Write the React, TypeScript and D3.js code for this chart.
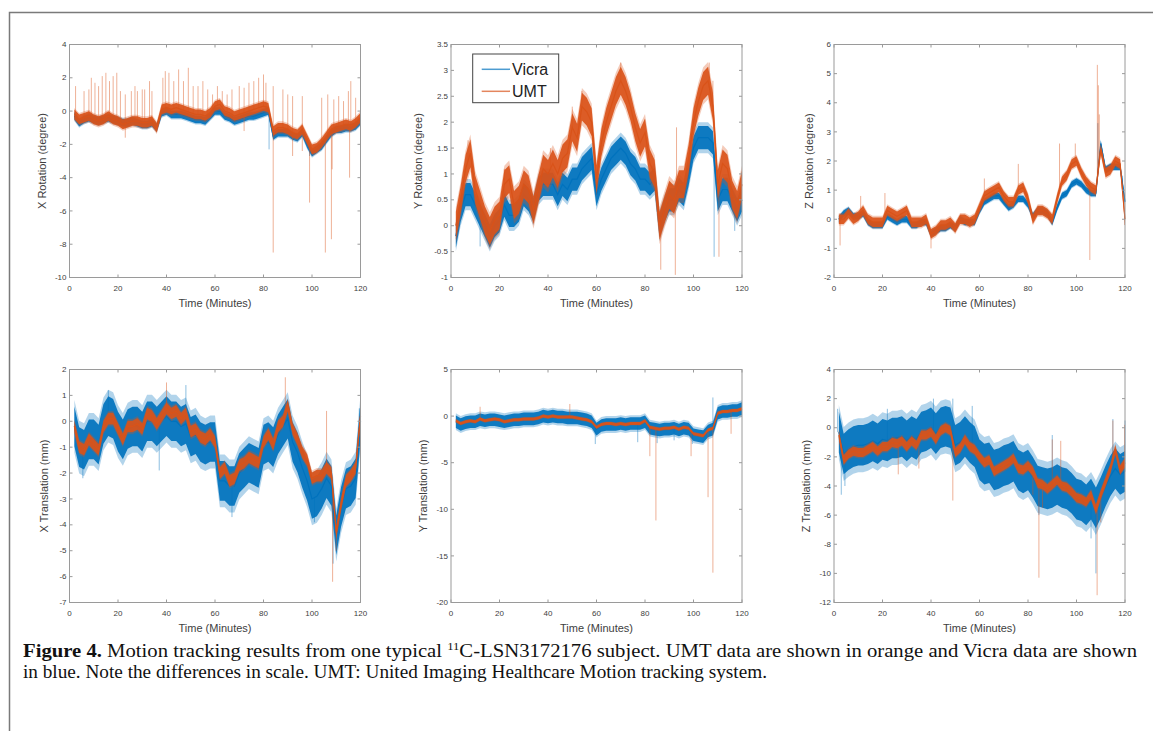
import React from 'react';
import * as d3 from 'd3';

// samples every 2 minutes, 2..120
const minutes = d3.range(2, 121, 2);
const timeTicks = [0, 20, 40, 60, 80, 100, 120];

// X Rotation (degree)
const xRotVicra = [
  -0.3, -0.7, -0.5, -0.4, -0.5, -0.6, -0.5, -0.4, -0.5, -0.6,
  -0.7, -0.7, -0.6, -0.7, -0.8, -0.8, -0.7, -1.0, -0.1, 0.0,
  -0.2, -0.2, -0.2, -0.3, -0.4, -0.5, -0.5, -0.6, -0.3, 0.0,
  0.0, -0.3, -0.4, -0.6, -0.5, -0.4, -0.3, -0.3, -0.2, -0.1,
  0.0, -1.5, -1.3, -1.3, -1.3, -1.5, -1.6, -1.3, -2.0, -2.5,
  -2.3, -2.1, -1.7, -1.3, -1.1, -1.1, -1.0, -1.0, -0.9, -0.6,
];
const xRotUmt = [
  -0.2, -0.5, -0.4, -0.3, -0.5, -0.6, -0.5, -0.3, -0.5, -0.6,
  -0.8, -0.7, -0.6, -0.6, -0.7, -0.7, -0.6, -1.0, 0.1, 0.2,
  0.1, 0.2, 0.1, 0.0, -0.1, -0.2, -0.2, -0.3, -0.1, 0.3,
  0.4, 0.0, -0.1, -0.3, -0.2, -0.1, 0.0, 0.1, 0.2, 0.3,
  0.2, -1.2, -1.0, -1.0, -1.1, -1.3, -1.4, -1.1, -1.7, -2.3,
  -2.2, -1.9, -1.5, -1.1, -1.0, -0.9, -0.8, -0.9, -0.7, -0.4,
];
const xRotUmtSpikes = [
  [2.5, 1.5], [6, 1.2], [8, 1.3], [9, 2.0], [10.5, 1.7], [12, 1.5], [13.5, 2.1], [15, 2.3],
  [16.5, 1.8], [18, 2.1], [19.5, 2.3], [21, 1.2], [23, 1.0], [25.5, 1.2], [27, 1.5], [28, 1.2],
  [30, 1.3], [31, 1.3], [33, 1.8], [34, 1.2], [38.5, 2.0], [39.5, 2.4], [41, 2.3], [43, 1.8],
  [45, 2.5], [47, 1.8], [49, 2.6], [51, 1.5], [53, 1.5], [55, 1.8], [57, 1.3], [59, 1.0],
  [61, 1.5], [63, 1.2], [65, 1.0], [67, 1.3], [70, 1.5], [72, 1.4], [74, 1.7], [76, 1.8],
  [78, 2.0], [80, 2.2], [81, 1.7], [84, 1.5], [88, 1.3], [90, 1.0], [92, 0.9], [96, 0.9],
  [104, 0.8], [106.5, 1.0], [109, 0.7], [111, 0.9], [113, 0.6], [115, 1.2], [116, 1.8], [118, 0.8],
  [84, -8.5], [99, -5.5], [105.5, -8.5], [108, -7.7], [115.5, -4.0], [92, -2.7], [96, -2.4],
  [72, -1.2], [23, -1.6], [108.3, -3.5],
];
const xRotVicraSpikes = [[82.3, -2.3], [99, -2.7]];

// Y Rotation (degree)
const yRotVicra = [
  -0.2, 0.3, 0.6, 0.6, 0.4, 0.2, 0.0, -0.2, 0.0, 0.1,
  0.4, 0.2, 0.2, 0.3, 0.6, 0.5, 0.3, 0.7, 0.8, 0.8,
  0.8, 0.6, 0.8, 0.7, 0.9, 0.9, 1.1, 1.2, 1.3, 0.6,
  0.9, 1.1, 1.3, 1.4, 1.5, 1.4, 1.2, 1.1, 0.9, 0.9,
  0.8, 0.9, 0.0, 0.3, 0.5, 0.5, 0.7, 0.6, 1.0, 1.5,
  1.7, 1.7, 1.7, 1.6, 0.5, 0.7, 0.7, 0.5, 0.3, 0.5,
];
const yRotUmt = [
  0.0, 0.5, 1.1, 1.4, 0.7, 0.4, 0.1, -0.1, 0.1, 0.2,
  0.8, 0.9, 0.4, 0.5, 0.8, 0.7, 0.3, 0.7, 1.1, 1.0,
  1.2, 1.0, 1.3, 1.4, 1.9, 1.7, 2.3, 2.2, 2.0, 0.9,
  1.6, 2.0, 2.3, 2.6, 2.8, 2.6, 2.3, 1.9, 1.6, 1.8,
  1.2, 1.0, 0.0, 0.3, 0.6, 0.5, 0.8, 0.8, 1.3, 2.0,
  2.4, 2.7, 2.8, 2.3, 0.8, 1.2, 1.1, 0.6, 0.4, 0.8,
];
const yRotUmtSpikes = [
  [86.5, -0.85], [92.5, -0.95], [93, 1.9], [106.5, 3.15], [110.5, -0.6], [70, 3.15],
  [54, 2.6], [7, 1.65], [108, 2.8], [50, 2.3], [22, 1.1], [41, 1.5],
];
const yRotVicraSpikes = [[58.5, 1.6], [108.5, -0.6], [117, -0.1], [12, -0.4]];

// Z Rotation (degree)
const zRotVicra = [
  0.0, 0.2, 0.3, 0.1, 0.1, 0.2, -0.1, -0.2, -0.2, -0.2,
  0.1, 0.0, -0.1, 0.0, 0.0, -0.2, -0.2, -0.1, -0.1, -0.5,
  -0.4, -0.3, -0.3, -0.2, -0.3, 0.0, -0.1, -0.1, -0.1, 0.3,
  0.6, 0.7, 0.8, 0.8, 0.6, 0.4, 0.5, 0.7, 0.7, 0.5,
  0.1, 0.3, 0.3, 0.2, -0.1, 0.4, 0.8, 0.9, 1.2, 1.3,
  1.2, 1.0, 0.9, 0.9, 2.6, 1.7, 1.8, 1.8, 1.8, 0.6,
];
const zRotUmt = [
  0.0, 0.0, 0.2, 0.0, 0.1, 0.3, 0.0, -0.1, -0.1, -0.1,
  0.3, 0.2, 0.1, 0.2, 0.3, -0.1, -0.1, -0.1, 0.0, -0.5,
  -0.4, -0.2, -0.2, -0.1, -0.3, 0.0, 0.0, -0.1, 0.0, 0.4,
  0.8, 0.9, 1.0, 1.1, 0.8, 0.6, 0.6, 1.0, 1.1, 0.7,
  0.0, 0.3, 0.3, 0.2, 0.0, 0.7, 1.3, 1.5, 1.9, 2.0,
  1.6, 1.3, 1.1, 1.0, 2.4, 1.6, 1.7, 2.0, 1.9, 0.0,
];
const zRotUmtSpikes = [
  [2.5, -0.9], [11, 0.8], [21, 0.9], [40, -1.0], [76, 1.9], [93, 2.6], [105.5, -1.4],
  [108.6, 5.3], [109, 4.6], [109.4, 3.6], [119.8, -0.2], [62, 1.4], [99.5, 2.6],
];
const zRotVicraSpikes = [[119, 1.5], [108.8, 3.3]];

// X Translation (mm)
const xTransVicra = [
  -0.2, -1.0, -1.1, -0.7, -0.7, -0.9, -0.1, 0.2, 0.1, -0.4,
  -0.7, -0.3, -0.2, -0.2, -0.4, 0.0, 0.0, -0.2, 0.0, 0.2,
  0.0, 0.0, -0.2, -0.1, -0.6, -0.5, -0.8, -0.9, -0.8, -0.8,
  -2.3, -2.3, -2.5, -2.5, -2.0, -1.8, -1.6, -1.7, -1.8, -0.9,
  -0.8, -1.0, -0.5, -0.2, 0.1, -0.8, -1.2, -1.8, -2.3, -3.0,
  -2.9, -2.6, -2.2, -2.5, -4.4, -3.3, -2.6, -2.5, -2.2, 0.0,
];
const xTransUmt = [
  -0.2, -1.0, -1.1, -0.7, -0.9, -1.1, -0.2, 0.1, 0.1, -0.3,
  -0.7, -0.2, -0.2, -0.1, -0.3, 0.3, 0.2, -0.1, 0.2, 0.5,
  0.3, 0.4, 0.1, 0.3, -0.4, -0.3, -0.6, -0.7, -0.5, -0.8,
  -2.0, -1.8, -2.3, -2.2, -1.7, -1.6, -1.4, -1.5, -1.6, -0.8,
  -0.5, -0.9, -0.2, 0.0, 0.6, -0.3, -0.7, -1.2, -1.5, -2.2,
  -2.1, -2.1, -1.8, -2.0, -4.3, -3.2, -2.3, -2.1, -1.8, 0.2,
];
const xTransUmtSpikes = [[108.5, -6.2], [89, 1.7], [106, 0.4], [40, 1.5], [110, -5.0]];
const xTransVicraSpikes = [
  [67, -3.7], [37, -1.9], [5.5, -2.2], [101, -3.9], [108.7, -5.5], [16, 1.2], [48, 1.4], [119.5, 0.5],
];

// Y Translation (mm)
const yTransVicra = [
  -0.6, -0.9, -0.7, -0.6, -0.6, -0.4, -0.5, -0.4, -0.4, -0.5,
  -0.6, -0.5, -0.4, -0.4, -0.3, -0.3, -0.3, -0.2, 0.0, -0.1,
  0.0, -0.1, -0.1, -0.2, -0.2, -0.2, -0.3, -0.4, -0.6, -1.4,
  -1.0, -0.9, -0.9, -0.9, -0.8, -0.9, -0.8, -0.8, -0.8, -0.6,
  -1.3, -1.4, -1.5, -1.4, -1.4, -1.3, -1.5, -1.3, -1.4, -2.0,
  -2.1, -2.2, -1.6, -1.4, 0.3, 0.5, 0.5, 0.6, 0.6, 0.8,
];
const yTransUmt = [
  -0.5, -0.8, -0.6, -0.5, -0.6, -0.3, -0.5, -0.4, -0.3, -0.4,
  -0.6, -0.5, -0.4, -0.4, -0.3, -0.3, -0.3, -0.2, 0.0, -0.1,
  0.0, -0.1, -0.1, -0.1, -0.1, -0.2, -0.3, -0.4, -0.6, -1.2,
  -0.9, -0.8, -0.8, -0.9, -0.8, -0.9, -0.8, -0.8, -0.8, -0.5,
  -1.2, -1.3, -1.4, -1.3, -1.3, -1.2, -1.4, -1.2, -1.3, -1.9,
  -2.0, -2.1, -1.5, -1.3, 0.3, 0.5, 0.5, 0.6, 0.6, 0.8,
];
const yTransUmtSpikes = [
  [82, -4.3], [84.5, -11.2], [99, -4.3], [106, -8.7], [108, -16.8], [115.5, -1.9], [49, 1.3], [12, 1.0],
];
const yTransVicraSpikes = [[59.5, -3.0], [77, -2.8], [85, -2.9], [108, 2.0], [92, -2.6], [99.5, -3.0]];

// Z Translation (mm)
const zTransVicra = [
  -0.3, -1.8, -1.5, -1.3, -1.2, -1.2, -1.1, -0.9, -1.1, -0.8,
  -0.9, -0.7, -0.7, -0.6, -0.9, -0.6, -0.8, -0.3, -0.2, 0.0,
  -0.4, 0.0, 0.1, 0.0, -1.2, -1.0, -0.6, -1.0, -1.3, -2.2,
  -2.5, -2.4, -2.9, -2.8, -2.6, -2.5, -2.3, -2.9, -3.1, -2.9,
  -3.4, -4.0, -4.1, -4.2, -4.1, -3.9, -4.1, -4.2, -4.5, -4.9,
  -5.0, -5.3, -4.9, -5.5, -4.8, -4.0, -3.3, -2.8, -3.2, -3.0,
];
const zTransUmt = [
  -0.5, -2.2, -1.8, -1.6, -1.7, -1.7, -1.5, -1.3, -1.6, -1.3,
  -1.3, -1.0, -1.1, -0.9, -1.3, -0.9, -1.2, -0.5, -0.5, -0.3,
  -0.8, -0.2, 0.0, -0.2, -1.7, -1.4, -0.8, -1.3, -1.5, -2.0,
  -2.4, -2.2, -3.0, -2.8, -2.6, -2.4, -2.1, -2.8, -2.9, -2.6,
  -3.0, -3.8, -3.9, -4.2, -3.9, -3.6, -4.0, -4.1, -4.4, -4.8,
  -4.9, -5.1, -4.6, -5.6, -4.6, -3.7, -2.8, -1.5, -2.9, -2.4,
];
const zTransUmtSpikes = [
  [49, -5.0], [84.5, -10.3], [108.5, -11.5], [115, 0.5], [90, -0.8], [93.5, -0.9],
  [82, -4.6], [26.5, -3.2], [35, -2.8], [119.8, 0.2], [86, -5.5], [110, -6.5],
];
const zTransVicraSpikes = [
  [1.5, 1.3], [3, -4.6], [4.5, -4.0], [49, 2.0], [41, 2.0], [22, 1.3], [57, 1.5],
  [90, -0.5], [108, -10.0], [106, -7.6], [84.5, -6.0], [115, 0.6], [120, 0.5],
];

// noise half-widths of each trace [Vicra, UMT]
const spreads = {
  xRot: [0.25, 0.32], yRot: [0.25, 0.3], zRot: [0.12, 0.18],
  xTrans: [0.85, 0.25], yTrans: [0.75, 0.18], zTrans: [1.55, 0.35],
};

const BLUE = '#0072BD';
const ORANGE = '#D95319';
const AXIS = '#9a9a9a';
const TEXT = '#404040';

const panels = [
  { label: 'X Rotation (degree)', domain: [-10, 4], ticks: d3.range(-10, 5, 2), vicra: xRotVicra, umt: xRotUmt, spread: spreads.xRot, vSpikes: xRotVicraSpikes, uSpikes: xRotUmtSpikes },
  { label: 'Y Rotation (degree)', domain: [-1, 3.5], ticks: d3.range(-1, 3.6, 0.5), vicra: yRotVicra, umt: yRotUmt, spread: spreads.yRot, vSpikes: yRotVicraSpikes, uSpikes: yRotUmtSpikes, legend: true },
  { label: 'Z Rotation (degree)', domain: [-2, 6], ticks: d3.range(-2, 7, 1), vicra: zRotVicra, umt: zRotUmt, spread: spreads.zRot, vSpikes: zRotVicraSpikes, uSpikes: zRotUmtSpikes },
  { label: 'X Translation (mm)', domain: [-7, 2], ticks: d3.range(-7, 3, 1), vicra: xTransVicra, umt: xTransUmt, spread: spreads.xTrans, vSpikes: xTransVicraSpikes, uSpikes: xTransUmtSpikes },
  { label: 'Y Translation (mm)', domain: [-20, 5], ticks: d3.range(-20, 6, 5), vicra: yTransVicra, umt: yTransUmt, spread: spreads.yTrans, vSpikes: yTransVicraSpikes, uSpikes: yTransUmtSpikes },
  { label: 'Z Translation (mm)', domain: [-12, 4], ticks: d3.range(-12, 5, 2), vicra: zTransVicra, umt: zTransUmt, spread: spreads.zTrans, vSpikes: zTransVicraSpikes, uSpikes: zTransUmtSpikes },
];

const colLefts = [69.5, 451, 834];
const rowTops = [44.5, 369.5];
const W = 291;
const H = 233;

function valueAt(series: number[], t: number) {
  const i = Math.max(0, Math.min(series.length - 1.0001, (t - minutes[0]) / 2));
  const i0 = Math.floor(i);
  const f = i - i0;
  return series[i0] * (1 - f) + series[i0 + 1] * f;
}

const fmt = (v: number) => String(Math.round(v * 10) / 10);

function Trace({ x, y, data, spread, spikes, color }: any) {
  const band = (k: number) =>
    d3.area<number>()
      .x((_, i) => x(minutes[i]))
      .y0((d) => y(d - spread * k))
      .y1((d) => y(d + spread * k))(data) as string;
  const mid = d3.line<number>().x((_, i) => x(minutes[i])).y((d) => y(d))(data) as string;
  return (
    <g>
      {spikes.map(([t, v]: number[], i: number) => (
        <line key={i} x1={x(t)} x2={x(t)} y1={y(valueAt(data, t))} y2={y(v)}
          stroke={color} strokeWidth={0.9} strokeOpacity={0.5} />
      ))}
      <path d={band(1.2)} fill={color} fillOpacity={0.3} />
      <path d={band(0.9)} fill={color} fillOpacity={0.92} />
      <path d={mid} fill="none" stroke={color} strokeWidth={1.2} />
    </g>
  );
}

function Panel({ p, left, top }: any) {
  const x = d3.scaleLinear().domain([0, 120]).range([left, left + W]);
  const y = d3.scaleLinear().domain(p.domain).range([top + H, top]);
  const maxLen = d3.max(p.ticks as number[], (t) => fmt(t).length) as number;
  const labelX = left - Math.max(25, 14 + 4.6 * maxLen);
  return (
    <g fontFamily="Liberation Sans, Arial, sans-serif">
      <Trace x={x} y={y} data={p.vicra} spread={p.spread[0]} spikes={p.vSpikes} color={BLUE} />
      <Trace x={x} y={y} data={p.umt} spread={p.spread[1]} spikes={p.uSpikes} color={ORANGE} />
      <rect x={left} y={top} width={W} height={H} fill="none" stroke={AXIS} strokeWidth={1} />
      {timeTicks.map((t) => (
        <g key={t}>
          <line x1={x(t)} x2={x(t)} y1={top + H} y2={top + H - 3} stroke={AXIS} />
          <line x1={x(t)} x2={x(t)} y1={top} y2={top + 3} stroke={AXIS} />
          <text x={x(t)} y={top + H + 13.5} textAnchor="middle" fontSize={8} fill={TEXT}>{t}</text>
        </g>
      ))}
      {p.ticks.map((t: number) => (
        <g key={t}>
          <line x1={left} x2={left + 3} y1={y(t)} y2={y(t)} stroke={AXIS} />
          <line x1={left + W} x2={left + W - 3} y1={y(t)} y2={y(t)} stroke={AXIS} />
          <text x={left - 3} y={y(t)} dy="0.33em" textAnchor="end" fontSize={8} fill={TEXT}>{fmt(t)}</text>
        </g>
      ))}
      <text x={left + W / 2} y={top + H + 29.5} textAnchor="middle" fontSize={11} fill={TEXT}>Time (Minutes)</text>
      <text transform={`translate(${labelX},${top + H / 2}) rotate(-90)`} dy="0.35em" textAnchor="middle" fontSize={11} fill={TEXT}>{p.label}</text>
      {p.legend && (
        <g>
          <rect x={left + 21.7} y={top + 9.5} width={86} height={48.7} fill="#fff" stroke="#444" strokeWidth={1} />
          <line x1={left + 30.7} x2={left + 59} y1={top + 24.8} y2={top + 24.8} stroke={BLUE} strokeWidth={1.5} strokeOpacity={0.7} />
          <line x1={left + 30.7} x2={left + 59} y1={top + 46.8} y2={top + 46.8} stroke={ORANGE} strokeWidth={1.5} strokeOpacity={0.7} />
          <text x={left + 61} y={top + 24.8} dy="0.36em" fontSize={16} fill="#222">Vicra</text>
          <text x={left + 61} y={top + 46.8} dy="0.36em" fontSize={16} fill="#222">UMT</text>
        </g>
      )}
    </g>
  );
}

export default function App() {
  return (
    <svg width={1153} height={731} style={{ position: 'absolute', left: 0, top: 0, background: '#fff' }}>
      <rect x={0} y={0} width={1153} height={731} fill="#fff" />
      <rect x={9.5} y={12.5} width={1300} height={900} fill="none" stroke="#7a7a7a" strokeWidth={1.5} />
      {panels.map((p, i) => (
        <Panel key={i} p={p} left={colLefts[i % 3]} top={rowTops[Math.floor(i / 3)]} />
      ))}
      <g fontFamily="Liberation Serif, Times New Roman, serif" fontSize={18} fill="#111">
        <text x={23} y={657} textLength={1114} lengthAdjust="spacingAndGlyphs">
          <tspan fontWeight="bold">Figure 4.</tspan> Motion tracking results from one typical{' '}
          <tspan fontSize={11} dy={-7}>11</tspan>
          <tspan dy={7}>C-LSN3172176 subject. UMT data are shown in orange and Vicra data are shown</tspan>
        </text>
        <text x={23} y={678} textLength={744} lengthAdjust="spacingAndGlyphs">
          in blue. Note the differences in scale. UMT: United Imaging Healthcare Motion tracking system.
        </text>
      </g>
    </svg>
  );
}
